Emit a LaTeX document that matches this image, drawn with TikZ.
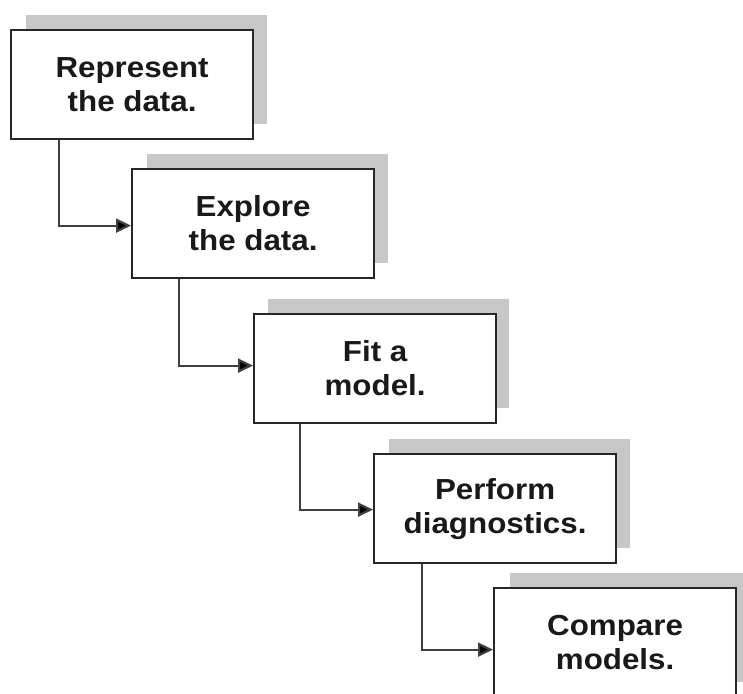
\documentclass[tikz,border=0pt]{standalone}
\usepackage{fontspec}
\newfontfamily\boxfont{Liberation Sans}[FakeStretch=1.08]
\usetikzlibrary{arrows.meta}
\tikzset{
  stepbox/.style={draw=black!85, line width=2.2pt, fill=white, anchor=north west,
    minimum width=242pt, minimum height=109pt, inner sep=0pt, align=center,
    font=\boxfont\bfseries\fontsize{29}{34}\selectfont, text=black!90},
  shadowbox/.style={fill=black!22, draw=none, anchor=north west,
    minimum width=241pt, minimum height=109pt, inner sep=0pt},
  conn/.style={draw=black!75, line width=2.2pt,
    -{Triangle[length=15pt,width=14pt,fill=black]}}
}
\begin{document}
\begin{tikzpicture}[x=1pt,y=-1pt]
\useasboundingbox (0,0) rectangle (743,693);
\clip (0,0) rectangle (743,693);
% shadows
\node[shadowbox] (s1) at (26,15) {};
\node[shadowbox] (s2) at (147,154) {};
\node[shadowbox] (s3) at (268,299) {};
\node[shadowbox] (s4) at (389,439) {};
\node[shadowbox] (s5) at (510,573) {};
% boxes
\node[stepbox] (b1) at (10,29) {Represent\\the data.};
\node[stepbox] (b2) at (131,168) {Explore\\the data.};
\node[stepbox] (b3) at (253,313) {Fit a\\model.};
\node[stepbox] (b4) at (373,453) {Perform\\diagnostics.};
\node[stepbox] (b5) at (493,587) {Compare\\models.};
% connectors
\draw[conn] ([xshift=49pt]b1.south west) |- ([yshift=-2pt]b2.west);
\draw[conn] ([xshift=48pt]b2.south west) |- ([yshift=3pt]b3.west);
\draw[conn] ([xshift=47pt]b3.south west) |- ([yshift=-1pt]b4.west);
\draw[conn] ([xshift=49pt]b4.south west) |- ([yshift=-7pt]b5.west);
\end{tikzpicture}
\end{document}
